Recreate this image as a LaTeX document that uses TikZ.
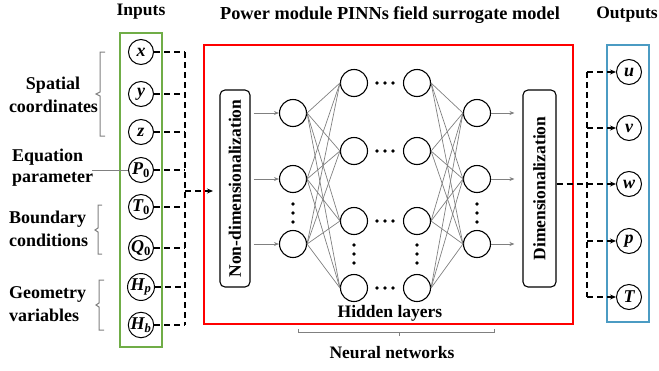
\documentclass[tikz,border=0pt]{standalone}
\usepackage{fontspec}
\setmainfont{Liberation Serif}
\usetikzlibrary{arrows.meta,calc}
\definecolor{boxgreen}{RGB}{112,173,71}
\definecolor{boxblue}{RGB}{75,155,195}
\definecolor{netgray}{RGB}{128,128,128}
\begin{document}
\begin{tikzpicture}[x=1pt,y=-1pt,
  lbl/.style={font=\bfseries\fontsize{17.5}{19}\selectfont, inner sep=0pt},
  side/.style={font=\bfseries\fontsize{18}{20}\selectfont, inner sep=0pt},
  var/.style={circle,draw,line width=1pt,minimum size=25pt,inner sep=0pt,font=\bfseries\itshape\fontsize{18}{18}\selectfont},
  neuron/.style={circle,draw,line width=1.1pt,minimum size=27pt,inner sep=0pt},
  conn/.style={netgray,line width=0.7pt},
  garrow/.style={netgray,line width=0.9pt,-{Stealth[length=5pt,width=4pt]}},
  dsh/.style={line width=1.2pt,dash pattern=on 6pt off 4pt},
  darrow/.style={dsh,-{Stealth[length=6pt,width=5pt]}},
  brk/.style={netgray,line width=1pt},
  procbox/.style={draw,line width=1.1pt,rounded corners=5pt,minimum width=197pt,inner sep=0pt,rotate=90,font=\bfseries\fontsize{17.5}{19}\selectfont},
  dotf/.style={circle,fill,inner sep=0pt,minimum size=3.6pt}
]
\useasboundingbox (0,0) rectangle (659,370);

% titles
\node[lbl] (tin) at (141,12) {Inputs};
\node[lbl,font=\bfseries\fontsize{18.3}{19}\selectfont] (ttitle) at (390,15) {Power module PINNs field surrogate model};
\node[lbl] (tout) at (627,15) {Outputs};

% frames
\draw[boxgreen,line width=1.3pt] (120,33) rectangle (162,347);
\draw[red,line width=1.3pt] (204,45) rectangle (573,324);
\draw[boxblue,line width=1.3pt] (607,45) rectangle (649,322);

% input variables
\node[var] (x) at (141,52) {x};
\node[var] (y) at (141,94) {y};
\node[var] (z) at (141,132) {z};
\node[var] (P0) at (141,170) {P\textsubscript{\upshape 0}};
\node[var] (T0) at (141,207) {T\textsubscript{\upshape 0}};
\node[var] (Q0) at (141,248) {Q\textsubscript{\upshape 0}};
\node[var] (Hp) at (141,287) {H\textsubscript{p}};
\node[var] (Hb) at (141,325) {H\textsubscript{b}};

% dashed collection
\coordinate (ctop) at (185,52);
\coordinate (cbot) at (185,325);
\coordinate (cmid) at (185,191);
\coordinate (cin) at (213,191);
\foreach \n in {x,y,z,P0,T0,Q0,Hp,Hb}{
  \draw[dsh] (\n.east) -- (\n.east -| ctop);
}
\draw[dsh] (ctop) -- (cbot);
\draw[darrow] (cmid) -- (cin);

% left labels
\node[side] (sp1) at (53,85) {Spatial};
\node[side] (sp2) at (53.5,106) {coordinates};
\draw[brk] (105,52) -- (100,52) -- (100,92) -- (96,94) -- (100,96) -- (100,136) -- (105,136);
\node[side,anchor=west] (eq1) at (12,157) {Equation};
\node[side,anchor=west] (eq2) at (12,179) {parameter};
\coordinate (eqs) at (92,170);
\draw[brk] (eqs) -- (P0.west);
\node[side,anchor=west] (bc1) at (9,219) {Boundary};
\node[side,anchor=west] (bc2) at (9,240) {conditions};
\draw[brk] (102,205) -- (98,205) -- (98,228) -- (95,230) -- (98,232) -- (98,254) -- (102,254);
\node[side,anchor=west] (gv1) at (9,294) {Geometry};
\node[side,anchor=west] (gv2) at (9,315) {variables};
\draw[brk] (104,280) -- (99,280) -- (99,303) -- (96,305) -- (99,307) -- (99,330) -- (104,330);

% processing boxes
\node[procbox,minimum height=30pt] (nd) at (235,188.5) {Non-dimensionalization};
\node[procbox,minimum height=33pt] (dm) at (539.5,188.5) {Dimensionalization};

% network
\foreach \i/\yy in {1/113,2/179,3/244}{
  \node[neuron] (i\i) at (293,\yy) {};
  \node[neuron] (o\i) at (477,\yy) {};
}
\foreach \i/\yy in {1/83,2/151,3/221,4/288}{
  \node[neuron] (a\i) at (354,\yy) {};
  \node[neuron] (b\i) at (417,\yy) {};
  \foreach \dx in {377,385,393}{ \node[dotf] at (\dx,\yy) {}; }
}
\foreach \dy in {204,213,222}{
  \node[dotf] at (293,\dy) {};
  \node[dotf] at (477,\dy) {};
}
\foreach \dy in {245,254,263}{
  \node[dotf] at (354,\dy) {};
  \node[dotf] at (417,\dy) {};
}
\foreach \i in {1,2,3}{
  \foreach \j in {1,2,3,4}{
    \draw[conn] (i\i.east) -- (a\j.west);
    \draw[conn] (b\j.east) -- (o\i.west);
  }
  \draw[garrow] (i\i.west -| nd.south) ++(3,0) -- (i\i.west);
  \draw[garrow] (o\i.east) -- ($(o\i.east -| dm.north)+(-8,0)$);
}

% hidden layers label & bracket
\node[lbl] (hl) at (390,313) {Hidden layers};
\draw[brk] (298,329) -- (298,332) -- (494,332) -- (494,329);
\draw[brk] (399,332) -- (399,336);
\node[lbl] (nn) at (392,353) {Neural networks};

% outputs
\node[var] (u) at (629,72) {u};
\node[var] (v) at (629,128) {v};
\node[var] (w) at (629,184) {w};
\node[var] (p) at (629,241) {p};
\node[var] (T) at (629,297) {T};
\coordinate (otop) at (587,72);
\coordinate (obot) at (587,297);
\draw[dsh] (dm.south |- w) -- (w -| otop);
\draw[dsh] (otop) -- (obot);
\foreach \n in {u,v,w,p,T}{
  \draw[darrow] (\n -| otop) -- (\n.west);
}
\end{tikzpicture}
\end{document}
